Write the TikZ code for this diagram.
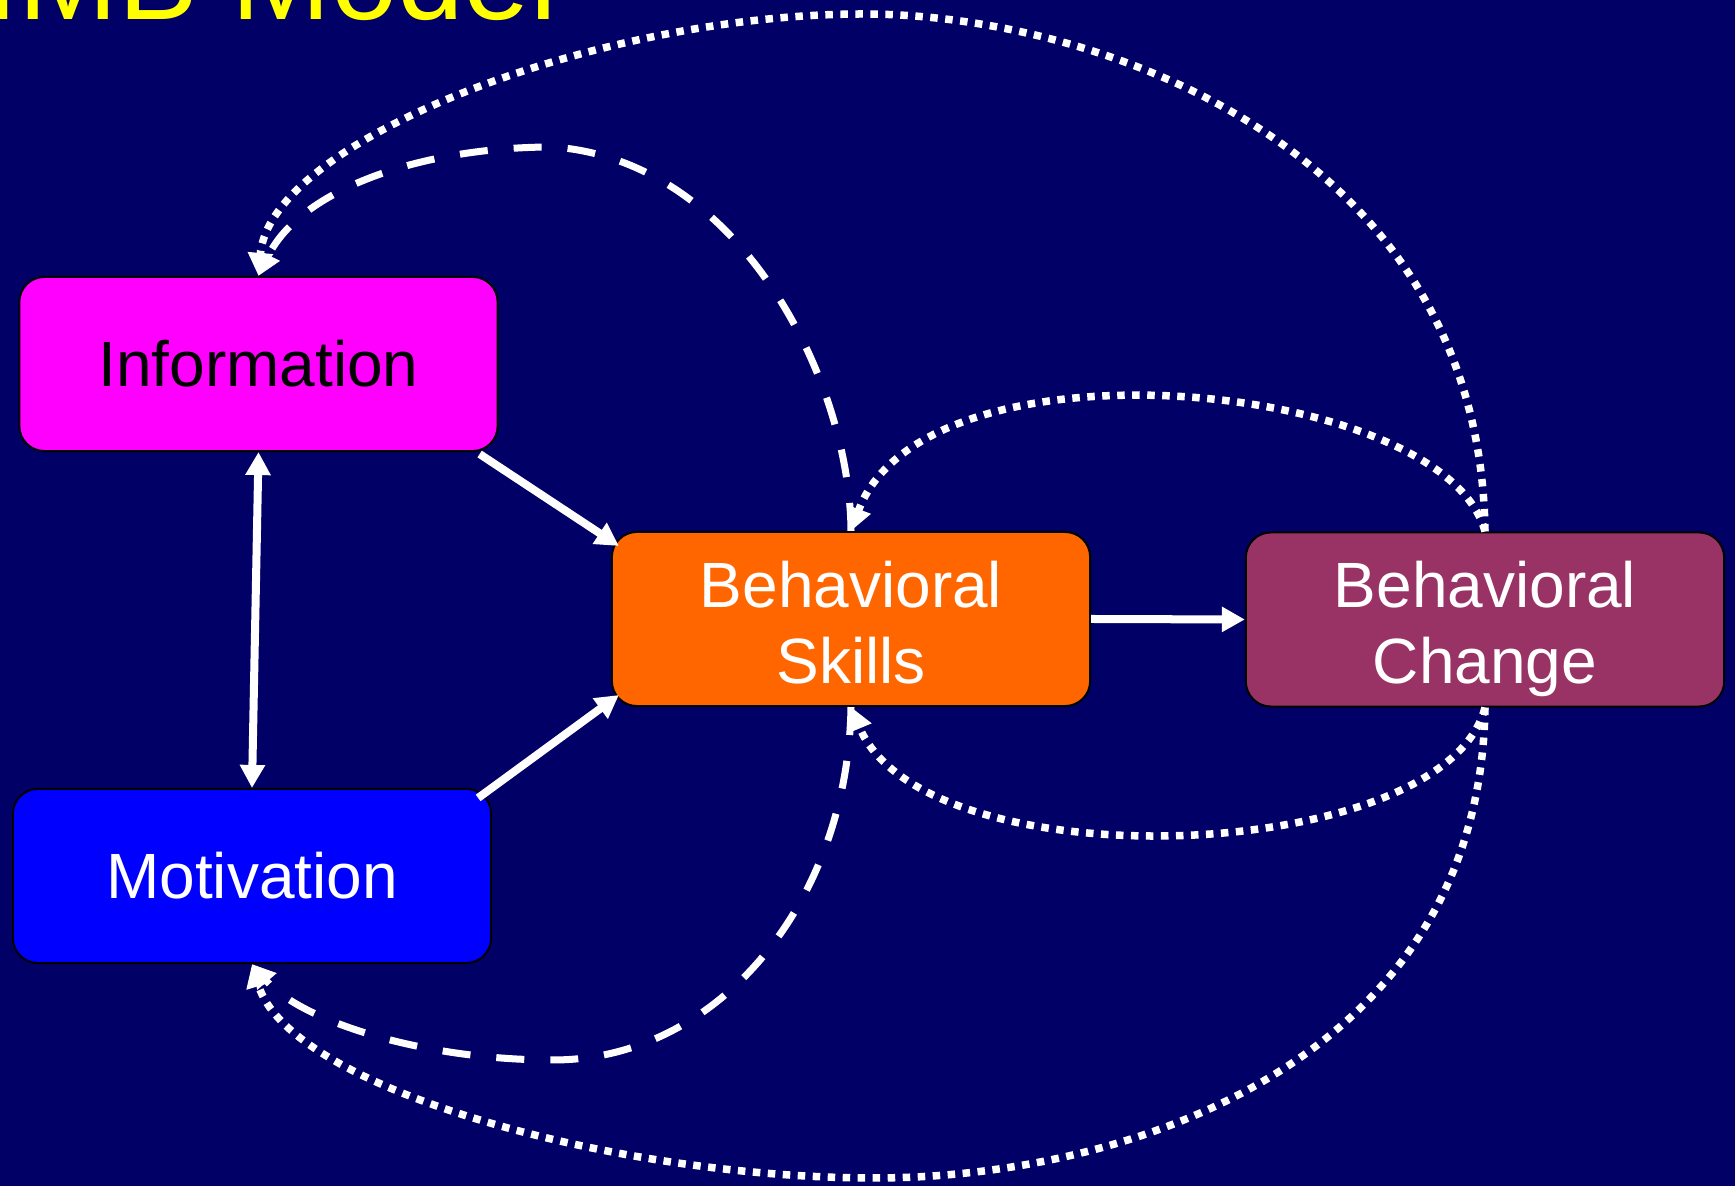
\documentclass[tikz,border=0pt]{standalone}
\usepackage{fontspec}
\setmainfont{Liberation Sans}
\usetikzlibrary{arrows.meta,calc}
\definecolor{bgnavy}{RGB}{0,0,102}
\definecolor{infomag}{RGB}{255,0,255}
\definecolor{motblue}{RGB}{0,0,255}
\definecolor{skillorange}{RGB}{255,102,0}
\definecolor{changeplum}{RGB}{153,51,102}
\definecolor{titleyellow}{RGB}{255,255,0}
\begin{document}
\begin{tikzpicture}[x=0.01cm,y=-0.01cm,
  box/.style={draw=black, line width=0.02cm, rounded corners=0.25cm,
    minimum width=4.78cm, minimum height=1.74cm, inner sep=0pt,
    align=center, font=\fontsize{18.2}{21.6}\selectfont},
  boxlabel/.style={inner sep=0pt, align=center, text=white,
    font=\fontsize{18.2}{21.6}\selectfont},
  tip/.style={-{Triangle[length=0.23cm,width=0.24cm]}},
  solidlink/.style={tip, white, line width=0.08cm},
  dashlink/.style={tip, white, line width=0.07cm, dash pattern=on 0.28cm off 0.26cm},
  dotlink/.style={tip, white, line width=0.075cm, dash pattern=on 0.075cm off 0.075cm}
]
\useasboundingbox (0,0) rectangle (1735,1186);
\fill[bgnavy] (0,0) rectangle (1735,1186);

% title, partly running off the top-left edge
\node[anchor=base west, inner sep=0pt, text=titleyellow,
      font=\fontsize{34}{40}\selectfont] (title) at (-15,20) {IMB Model};

% the four constructs
\node[box, fill=infomag, text=black] (info) at (258.5,364) {Information};
\node[box, fill=motblue, text=white] (mot) at (252,876) {Motivation};
\node[box, fill=skillorange] (skills) at (851,619) {};
\node[box, fill=changeplum] (change) at (1485,619.5) {};
\node[boxlabel] (skillsText) at ($(skills.center)+(0,4)$) {Behavioral\\Skills};
\node[boxlabel] (changeText) at ($(change.center)+(0,9)$) {Behavioral\\Change};

% turning points of the feedback loops
\coordinate (dashTop) at (553,147);
\coordinate (dashBottom) at (553,1060);
\coordinate (dotTop) at (863,14);
\coordinate (dotBottom) at (874,1178);

% direct paths
\draw[solidlink] ($(info.south east)+(-19,2)$) -- ($(skills.north west)+(8,15)$);
\draw[solidlink] ($(mot.north east)+(-14,10)$) -- ($(skills.south west)+(8,-12)$);
\draw[solidlink, {Triangle[length=0.23cm,width=0.24cm]}-{Triangle[length=0.23cm,width=0.24cm]}]
  (info.south) -- (mot.north);
\draw[solidlink] (skills.east) -- (change.west);

% feedback from skills (dashed)
\draw[dashlink] (skills.north) .. controls (850,380) and (740,160) .. (dashTop)
  .. controls (420,147) and (300,190) .. (info.north);
\draw[dashlink] (skills.south) .. controls (848,900) and (720,1060) .. (dashBottom)
  .. controls (420,1060) and (300,1020) .. (mot.south);

% feedback from behaviour change (dotted)
\draw[dotlink] (change.north) .. controls (1480,150) and (1100,14) .. (dotTop)
  .. controls (600,14) and (270,140) .. (info.north);
\draw[dotlink] (change.north) .. controls (1445,380) and (925,330) .. (skills.north);
\draw[dotlink] (change.south) .. controls (1445,865) and (925,885) .. (skills.south);
\draw[dotlink] (change.south) .. controls (1480,1060) and (1130,1178) .. (dotBottom)
  .. controls (620,1178) and (290,1090) .. (mot.south);
\end{tikzpicture}
\end{document}
